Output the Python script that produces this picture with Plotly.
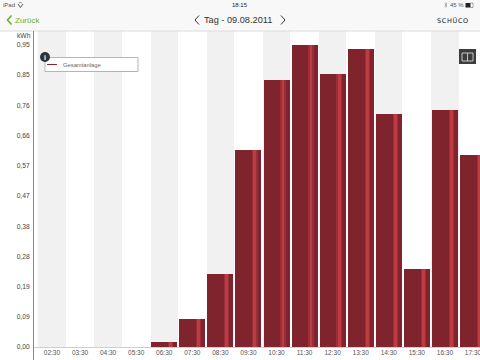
import plotly.graph_objects as go

hours = ["02:30","03:30","04:30","05:30","06:30","07:30","08:30","09:30",
         "10:30","11:30","12:30","13:30","14:30","15:30","16:30","17:30"]
energy = [0,0,0,0,0.017,0.087,0.23,0.62,0.84,0.95,0.858,0.938,0.733,0.245,0.745,0.604]
ytick_vals = [0,0.095,0.19,0.285,0.38,0.475,0.57,0.665,0.76,0.855,0.95]
ytick_text = ["0,00","0,09","0,19","0,28","0,38","0,47","0,57","0,66","0,76","0,85","0,95"]

W, H = 480, 360
L, T, B = 34, 31, 13
PW, PH = W - L, H - T - B
YMAX = PH / 318.0
FONT = "Liberation Sans"

def px(x): return (x - L) / PW
def py(y): return (H - B - y) / PH

fig = go.Figure()
bands = [YMAX if i % 2 == 0 else None for i in range(len(hours))]
fig.add_bar(x=hours, y=bands, width=0.975, marker=dict(color="#f1f1f1", line_width=0), hoverinfo="skip")
fig.add_bar(x=hours, y=energy, width=0.926, marker=dict(color="#7f242c", line_width=0), name="Gesamtanlage")
fig.add_bar(x=hours, y=energy, width=0.19, offset=0.135, marker=dict(color="#97303a", line_width=0), hoverinfo="skip")
fig.add_bar(x=hours, y=energy, width=0.1, offset=0.18, marker=dict(color="#bd3b41", line_width=0), hoverinfo="skip")

def rect(x0, y0, x1, y1, fill, line=None, lw=1, layer="above"):
    return dict(type="rect", xref="paper", yref="paper", x0=px(x0), x1=px(x1), y0=py(y0), y1=py(y1),
                fillcolor=fill, line=dict(color=line or fill, width=lw if line else 0), layer=layer)

def seg(pts, color, lw):
    d = "M" + " L".join(f"{px(a):.5f},{py(b):.5f}" for a, b in pts)
    return dict(type="path", xref="paper", yref="paper", path=d, line=dict(color=color, width=lw))

shapes = [
    rect(0, 0, W, 31, "#f8f8f8"),
    seg([(0, 31), (W, 31)], "#dcdcdc", 1),
    seg([(33.5, 31), (33.5, 360)], "#8a8a8a", 1),
    seg([(34, 347.5), (W, 347.5)], "#cfcfcf", 1),
    seg([(11.5, 15.5), (7.5, 20), (11.5, 24.5)], "#6fae2e", 1.6),
    seg([(199, 15.5), (195, 20), (199, 24.5)], "#333333", 1),
    seg([(281, 15.5), (285, 20), (281, 24.5)], "#333333", 1),
    rect(45, 57.5, 138, 71.5, "#ffffff", "#b5b5b5", 1),
    seg([(47, 64.5), (57, 64.5)], "#7f242c", 1),
    dict(type="circle", xref="paper", yref="paper", x0=px(40), x1=px(50), y0=py(52), y1=py(62),
         fillcolor="#333333", line_width=0),
    rect(459, 49, 476, 64, "#3d3d3d"),
    rect(462, 53, 473, 61, "#3d3d3d", "#e8e8e8", 0.8),
    seg([(467.5, 53), (467.5, 61)], "#e8e8e8", 0.8),
    # wifi
    seg([(18, 4), (20.5, 7.5), (23, 4)], "#555555", 1),
    seg([(19, 3), (20.5, 2.6), (22, 3)], "#555555", 0.7),
    # bluetooth
    seg([(444.5, 3.5), (447, 6), (445.8, 7.5), (445.8, 2.5), (447, 4), (444.5, 6.5)], "#888888", 0.5),
    # battery
    rect(465.5, 3, 470.5, 7.5, "#222222"),
    rect(470.5, 3, 473, 7.5, "#ffffff", "#555555", 0.5),
]

def txt(x, y, s, size, color="#444444", anchor="left", family=FONT):
    return dict(xref="paper", yref="paper", x=px(x), y=py(y), text=s, showarrow=False,
                xanchor=anchor, yanchor="middle", xshift=0, yshift=0, borderpad=0, borderwidth=0,
                font=dict(size=size, color=color, family=family))

annotations = [
    txt(3, 5, "iPad", 6, "#555555"),
    txt(240, 5, "18:15", 6, "#222222", "center"),
    txt(450, 5, "45 %", 6, "#555555"),
    txt(15, 20, "Zurück", 8, "#6fae2e"),
    txt(204, 20, "Tag - 09.08.2011", 9.2, "#333333"),
    txt(452.5, 20.5, "S\u200aC\u200aH\u200aÜ\u200aC\u200aO", 6.5, "#222222", "center", "DejaVu Sans"),
    txt(63, 64.5, "Gesamtanlage", 5.8, "#666666"),
    txt(45, 57, "<b>i</b>", 7, "#ffffff", "center"),
    txt(31, 35.5, "kWh", 6.7, "#444444", "right"),
]

fig.update_layout(
    width=W, height=H, autosize=False, showlegend=False, barmode="overlay", bargap=0,
    margin=dict(l=L, r=0, t=T, b=B, pad=0),
    paper_bgcolor="#ffffff", plot_bgcolor="#ffffff",
    font=dict(family=FONT, size=6.5, color="#444444"),
    shapes=shapes, annotations=annotations,
    xaxis=dict(type="category", categoryorder="array", categoryarray=hours,
               range=[-0.64, 15.25], showgrid=False, zeroline=False, showline=False,
               ticks="", tickfont=dict(size=6.5, color="#555555"), tickangle=0),
    yaxis=dict(range=[0, YMAX], tickvals=ytick_vals, ticktext=ytick_text, showgrid=False,
               zeroline=False, showline=False, ticks="outside", ticklen=2,
               tickcolor="rgba(0,0,0,0)", tickfont=dict(size=6.7, color="#444444")),
)
fig.write_html("out.html", config=dict(displayModeBar=False),
               post_script="document.body.style.margin='0';document.body.style.overflow='hidden';")
